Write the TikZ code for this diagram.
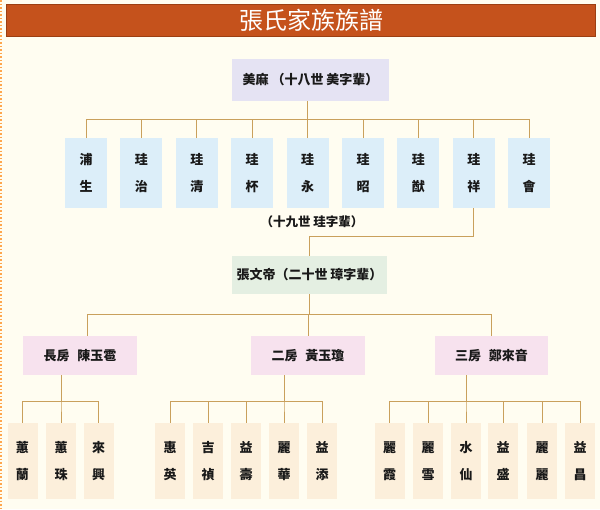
\documentclass[tikz,border=0pt]{standalone}
\usepackage{fontspec}
\setmainfont{Noto Sans CJK TC}
\usetikzlibrary{positioning}
\definecolor{cream}{HTML}{FFFDF1}
\definecolor{barred}{HTML}{C5521C}
\definecolor{bardark}{HTML}{9C3F12}
\definecolor{gold}{HTML}{C9A05C}
\definecolor{lilac}{HTML}{E5E3F3}
\definecolor{skyblue}{HTML}{DCEEF9}
\definecolor{mint}{HTML}{E4EFE2}
\definecolor{rose}{HTML}{F7E2EE}
\definecolor{sand}{HTML}{FCEFDB}

\begin{document}
\begin{tikzpicture}[x=1pt,y=-1pt,
    line/.style={draw=gold, line width=1pt},
    box/.style={fill=#1, inner sep=0pt, align=center, text=black!90},
    cell/.style={box=#1, minimum width=42pt, minimum height=70pt, font=\fontsize{13}{27}\selectfont\bfseries},
    kid/.style={box=sand, minimum width=30pt, minimum height=76pt, font=\fontsize{13}{27}\selectfont\bfseries},
    wide/.style={box=#1, font=\fontsize{13}{15}\selectfont\bfseries}]
    \useasboundingbox (0,0) rectangle (600,509);
    \fill[cream] (0,0) rectangle (600,509);
    \draw[orange!70, line width=1.5pt, dotted] (1,0) -- (1,509);
    % title
    \draw[fill=barred, draw=bardark] (6,4) rectangle (595,36);
    \node[text=white, font=\fontsize{24}{26}\selectfont] (title) at (311,20) {張氏家族族譜};
    % 18th generation
    \node[wide=lilac, minimum width=157pt, minimum height=42pt] (top) at (310.5,80) {美麻 （十八世 美字輩）};
    % 19th generation
    \foreach \a/\b [count=\i from 0] in {浦/生,珪/治,珪/清,珪/杯,珪/永,珪/昭,珪/猷,珪/祥,珪/會}
        \node[cell=skyblue] (g\i) at (86+55.4*\i,173) {\a\\\b};
    \foreach \i in {0,...,8}
        \draw[line] (top.south -| g4.north) -- ++(0,18) -| (g\i.north);
    \node[font=\fontsize{12.5}{14}\selectfont\bfseries, text=black!90] (gen19) at (312,222) {（十九世 珪字輩）};
    % 20th generation
    \node[wide=mint, minimum width=155pt, minimum height=38pt] (wen) at (309.5,275) {張文帝（二十世 璋字輩）};
    \draw[line] (g7.south) -- ++(0,28) -| (wen.north);
    % three branches
    \node[wide=rose, minimum width=114pt, minimum height=39pt] (fang1) at (80,355.5) {長房\hspace{0.6em}陳玉雹};
    \node[wide=rose, minimum width=114pt, minimum height=39pt] (fang2) at (308,355.5) {二房\hspace{0.6em}黃玉瓊};
    \node[wide=rose, minimum width=113pt, minimum height=39pt] (fang3) at (491.5,355.5) {三房\hspace{0.6em}鄭來音};
    \draw[line] (wen.south) -- ++(0,20) -| ([xshift=7pt]fang1.north);
    \draw[line] (wen.south) -- ++(0,20) -| (fang2.north);
    \draw[line] (wen.south) -- ++(0,20) -| (fang3.north);
    % children
    \foreach \x/\a/\b/\n in {22.5/蕙/蘭/c11, 61/蕙/珠/c12, 98.5/來/興/c13,
        170/惠/英/c21, 208/吉/禎/c22, 246/益/壽/c23, 284/麗/華/c24, 322/益/添/c25,
        389.5/麗/霞/c31, 428/麗/雪/c32, 466/水/仙/c33, 503/益/盛/c34, 542/麗/麗/c35, 580/益/昌/c36}
        \node[kid] (\n) at (\x,461) {\a\\\b};
    \foreach \n in {c11,c12,c13}
        \draw[line] (fang1.south -| c12.north) -- ++(0,26) -| (\n.north);
    \foreach \n in {c21,c22,c23,c24,c25}
        \draw[line] (fang2.south -| c24.north) -- ++(0,26) -| (\n.north);
    \foreach \n in {c31,c32,c33,c34,c35,c36}
        \draw[line] (fang3.south -| c33.north) -- ++(0,26) -| (\n.north);
\end{tikzpicture}
\end{document}
